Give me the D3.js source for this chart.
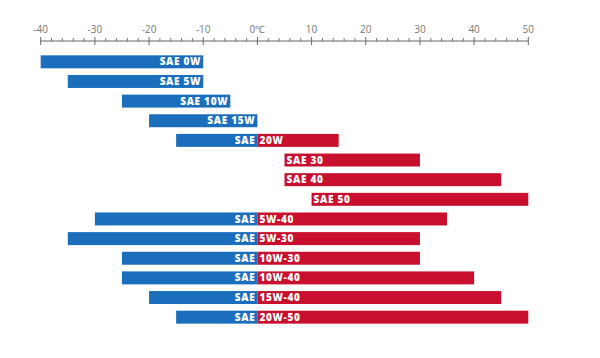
<!DOCTYPE html>
<html><head><meta charset="utf-8">
<script src="https://cdn.jsdelivr.net/npm/d3@7"></script>
<style>body{margin:0;background:#fff}svg{display:block}</style>
</head><body><svg id="c" width="600" height="358"></svg>
<script>
const grades = ["0W","5W","10W","15W","20W","30","40","50","5W-40","5W-30","10W-30","10W-40","15W-40","20W-50"];
const blueLabels = ["SAE 0W","SAE 5W","SAE 10W","SAE 15W","SAE","","","","SAE","SAE","SAE","SAE","SAE","SAE"];
const redLabels = ["","","","","20W","SAE 30","SAE 40","SAE 50","5W-40","5W-30","10W-30","10W-40","15W-40","20W-50"];
const blueStart = [-40,-35,-25,-20,-15,null,null,null,-30,-35,-25,-25,-20,-15];
const blueEnd   = [-10,-10,-5,0,0,null,null,null,0,0,0,0,0,0];
const redStart  = [null,null,null,null,0,5,5,10,0,0,0,0,0,0];
const redEnd    = [null,null,null,null,15,30,45,50,35,30,30,40,45,50];
const majorTicks = [-40,-30,-20,-10,0,10,20,30,40,50];
const tickLabels = ["-40","-30","-20","-10","0℃","10","20","30","40","50"];

const BLUE = "#1b6ebc", RED = "#c8102e";
const svg = d3.select("#c");
const x = d3.scaleLinear().domain([-40,50]).range([40.7,528.3]);
const y = d3.scaleBand().domain(d3.range(grades.length)).range([52,327]).paddingInner(0.34).paddingOuter(0.17);

// axis
const axisY = 41;
const g = svg.append("g");
g.append("line").attr("x1",x(-40)).attr("x2",x(50)).attr("y1",axisY).attr("y2",axisY).attr("stroke","#666").attr("stroke-width",1);
const minor = d3.range(-40,51,2).filter(v=>v%10!==0);
g.selectAll(".mn").data(minor).join("line").attr("x1",d=>x(d)).attr("x2",d=>x(d)).attr("y1",axisY-3).attr("y2",axisY+0.5).attr("stroke","#777").attr("stroke-width",1);
g.selectAll(".mj").data(majorTicks).join("line").attr("x1",d=>x(d)).attr("x2",d=>x(d)).attr("y1",axisY-4).attr("y2",axisY+4).attr("stroke","#666").attr("stroke-width",1);
g.selectAll(".tl").data(majorTicks).join("text").attr("x",d=>x(d)).attr("y",axisY-8)
  .attr("text-anchor","middle").attr("font-family","Open Sans, sans-serif").attr("font-size",10)
  .attr("fill","#777").text((d,i)=>tickLabels[i]);

const idx = d3.range(grades.length);
const bh = y.bandwidth();
svg.selectAll(".bb").data(idx.filter(i=>blueStart[i]!==null)).join("rect")
  .attr("x",i=>x(blueStart[i])).attr("width",i=>x(blueEnd[i])-x(blueStart[i]))
  .attr("y",i=>y(i)).attr("height",bh).attr("fill",BLUE);
svg.selectAll(".rb").data(idx.filter(i=>redStart[i]!==null)).join("rect")
  .attr("x",i=>x(redStart[i])).attr("width",i=>x(redEnd[i])-x(redStart[i]))
  .attr("y",i=>y(i)).attr("height",bh).attr("fill",RED);

const font = "Open Sans, sans-serif";
svg.selectAll(".bl").data(idx.filter(i=>blueLabels[i])).join("text")
  .attr("x",i=>x(blueEnd[i])-2).attr("y",i=>y(i)+bh/2+3.6)
  .attr("text-anchor","end").attr("font-family",font).attr("font-weight",800).attr("font-size",10)
  .attr("letter-spacing",0.7).attr("fill","#fff").text(i=>blueLabels[i]);
svg.selectAll(".rl").data(idx.filter(i=>redLabels[i])).join("text")
  .attr("x",i=>x(redStart[i])+2).attr("y",i=>y(i)+bh/2+3.6)
  .attr("text-anchor","start").attr("font-family",font).attr("font-weight",800).attr("font-size",10)
  .attr("letter-spacing",0.7).attr("fill","#fff").text(i=>redLabels[i]);
</script></body></html>
